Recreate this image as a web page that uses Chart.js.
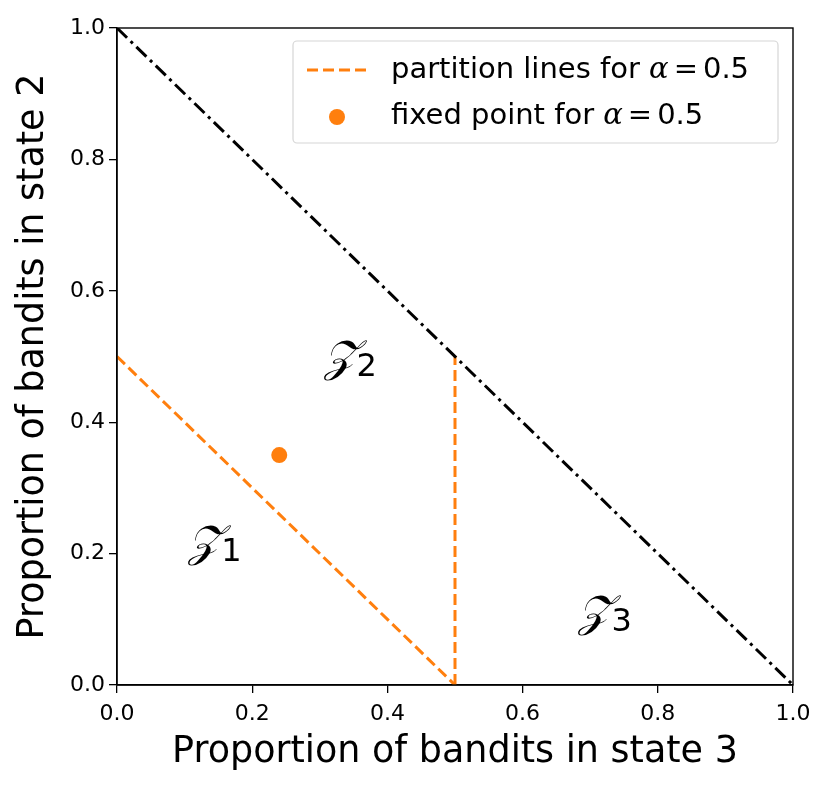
<!DOCTYPE html>
<html>
<head>
<meta charset="utf-8">
<script src="https://cdn.jsdelivr.net/npm/chart.js@4"></script>
<style>
  body { margin: 0; background: #fff; }
</style>
</head>
<body>
<canvas id="chart" width="830" height="787"></canvas>
<script>
// data
const outerX = [0, 1];
const outerY = [1, 0];
const partDiagX = [0, 0.5];
const partDiagY = [0.5, 0];
const partVertX = [0.5, 0.5];
const partVertY = [0, 0.5];
const fixedX = [0.24];
const fixedY = [0.35];
const regionNames = ['1', '2', '3'];
const regionX = [0.145, 0.345, 0.722];
const regionY = [0.221, 0.502, 0.114];
const tickValues = [0, 0.2, 0.4, 0.6, 0.8, 1.0];

const orange = '#ff7f0e';

function pts(xs, ys) {
    return xs.map((x, i) => ({ x: x, y: ys[i] }));
}

// frame, region labels and legend
const extras = {
    id: 'extras',
    afterDatasetsDraw(chart) {
        const ctx = chart.ctx;
        const a = chart.chartArea;
        const sx = chart.scales.x, sy = chart.scales.y;
        ctx.save();
        ctx.strokeStyle = '#000';
        ctx.lineWidth = 1.4;
        ctx.strokeRect(a.left, a.top, a.right - a.left, a.bottom - a.top);

        // region labels
        ctx.fillStyle = '#000';
        ctx.textBaseline = 'alphabetic';
        regionNames.forEach((n, i) => {
            const px = sx.getPixelForValue(regionX[i]);
            const py = sy.getPixelForValue(regionY[i]);
            ctx.font = 'italic 44px "DejaVu Serif", serif';
            const zw = ctx.measureText('\u{1D4B5}').width;
            ctx.font = '32px "DejaVu Sans"';
            const nw = ctx.measureText(n).width;
            const x0 = px - (zw + nw) / 2;
            ctx.font = 'italic 44px "DejaVu Serif", serif';
            ctx.textAlign = 'left';
            ctx.fillText('\u{1D4B5}', x0, py + 16);
            ctx.font = '32px "DejaVu Sans"';
            ctx.fillText(n, x0 + zw, py + 21);
        });

        // legend box
        const lx = 293, ly = 41, lw = 485, lh = 102;
        ctx.beginPath();
        ctx.fillStyle = 'rgba(255,255,255,0.8)';
        ctx.strokeStyle = '#d6d6d6';
        ctx.lineWidth = 1.2;
        ctx.roundRect(lx, ly, lw, lh, 4);
        ctx.fill();
        ctx.stroke();

        ctx.strokeStyle = orange;
        ctx.lineWidth = 3;
        ctx.setLineDash([11, 5]);
        ctx.beginPath();
        ctx.moveTo(307, 70);
        ctx.lineTo(367, 70);
        ctx.stroke();
        ctx.setLineDash([]);

        ctx.fillStyle = orange;
        ctx.beginPath();
        ctx.arc(337, 117, 8, 0, Math.PI * 2);
        ctx.fill();

        const rows = [['partition lines for ', 70], ['fixed point for ', 116]];
        rows.forEach(r => {
            let x = 391;
            ctx.fillStyle = '#000';
            ctx.textBaseline = 'middle';
            ctx.font = '29px "DejaVu Sans"';
            ctx.fillText(r[0], x, r[1]);
            x += ctx.measureText(r[0]).width;
            ctx.font = 'italic 29px "DejaVu Serif"';
            ctx.fillText('\u03B1', x, r[1]);
            x += ctx.measureText('\u03B1').width + 5;
            ctx.font = '29px "DejaVu Sans"';
            ctx.fillText('=', x, r[1]);
            x += ctx.measureText('=').width + 5;
            ctx.fillText('0.5', x, r[1]);
        });
        ctx.restore();
    }
};

const ctx = document.getElementById('chart').getContext('2d');
new Chart(ctx, {
    type: 'scatter',
    data: {
        datasets: [
            {
                data: pts(outerX, outerY),
                showLine: true,
                borderColor: '#000',
                borderWidth: 3,
                borderDash: [14, 5, 3, 5],
                pointRadius: 0
            },
            {
                data: pts(partDiagX, partDiagY),
                showLine: true,
                borderColor: orange,
                borderWidth: 3,
                borderDash: [11, 5],
                pointRadius: 0
            },
            {
                data: pts(partVertX, partVertY),
                showLine: true,
                borderColor: orange,
                borderWidth: 3,
                borderDash: [11, 5],
                pointRadius: 0
            },
            {
                data: pts(fixedX, fixedY),
                backgroundColor: orange,
                borderWidth: 0,
                pointRadius: 8
            }
        ]
    },
    options: {
        responsive: false,
        animation: false,
        devicePixelRatio: 1,
        layout: { padding: { top: 28, right: 37, left: 0, bottom: 0 } },
        plugins: { legend: { display: false }, tooltip: { enabled: false } },
        scales: {
            x: {
                type: 'linear',
                min: 0, max: 1,
                afterBuildTicks: s => { s.ticks = tickValues.map(v => ({ value: v })); },
                afterFit: s => { s.height = 102; },
                ticks: {
                    color: '#000',
                    font: { family: 'DejaVu Sans', size: 22 },
                    padding: 8,
                    maxRotation: 0,
                    callback: v => v.toFixed(1)
                },
                grid: { drawOnChartArea: false, drawTicks: true, tickLength: 8, color: '#000', lineWidth: 1.3 },
                border: { display: true, color: '#000', width: 1.4 },
                title: {
                    display: true,
                    text: 'Proportion of bandits in state 3',
                    color: '#000',
                    font: { family: 'DejaVu Sans', size: 36.5 },
                    padding: { top: 0, bottom: 13 }
                }
            },
            y: {
                type: 'linear',
                min: 0, max: 1,
                afterBuildTicks: s => { s.ticks = tickValues.map(v => ({ value: v })); },
                afterFit: s => { s.width = 117; },
                ticks: {
                    color: '#000',
                    font: { family: 'DejaVu Sans', size: 22 },
                    padding: 4,
                    callback: v => v.toFixed(1)
                },
                grid: { drawOnChartArea: false, drawTicks: true, tickLength: 8, color: '#000', lineWidth: 1.3 },
                border: { display: true, color: '#000', width: 1.4 },
                title: {
                    display: true,
                    text: 'Proportion of bandits in state 2',
                    color: '#000',
                    font: { family: 'DejaVu Sans', size: 36.5 },
                    padding: { top: 12, bottom: 0 }
                }
            }
        }
    },
    plugins: [extras]
});
</script>
</body>
</html>
